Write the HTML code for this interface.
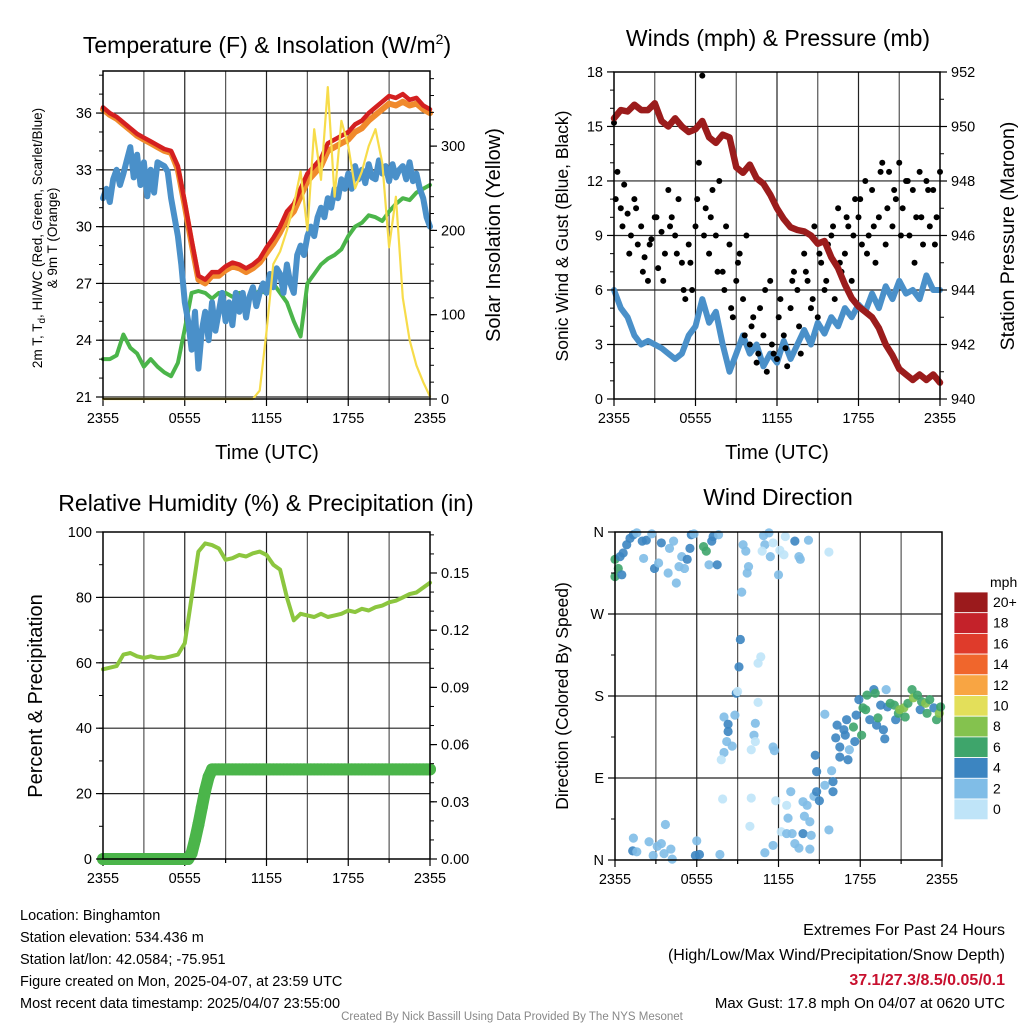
<!DOCTYPE html>
<html><head><meta charset="utf-8">
<style>
html,body{margin:0;padding:0;background:#fff;}
svg{display:block;font-family:"Liberation Sans",sans-serif;}
</style></head>
<body>
<svg id="chart" width="1024" height="1024" viewBox="0 0 1024 1024" xmlns="http://www.w3.org/2000/svg">
<rect width="1024" height="1024" fill="#fff"/>
<text x="267" y="53" font-size="23" text-anchor="middle">Temperature (F) &amp; Insolation (W/m<tspan font-size="14" dy="-9">2</tspan><tspan dy="9">)</tspan></text>
<text x="778" y="46" font-size="23" text-anchor="middle">Winds (mph) &amp; Pressure (mb)</text>
<text x="266" y="511" font-size="23" text-anchor="middle">Relative Humidity (%) &amp; Precipitation (in)</text>
<text x="778" y="505" font-size="23" text-anchor="middle">Wind Direction</text>

<text transform="translate(42,238) rotate(-90)" font-size="13.5" text-anchor="middle">2m T, T<tspan font-size="10" dy="3">d</tspan><tspan dy="-3">, HI/WC (Red, Green, Scarlet/Blue)</tspan></text>
<text transform="translate(57,238) rotate(-90)" font-size="13.5" text-anchor="middle">&amp; 9m T (Orange)</text>
<text transform="translate(500,235) rotate(-90)" font-size="20" text-anchor="middle">Solar Insolation (Yellow)</text>
<text x="267" y="459" font-size="20" text-anchor="middle">Time (UTC)</text>
<text transform="translate(568,236) rotate(-90)" font-size="17.5" text-anchor="middle">Sonic Wind &amp; Gust (Blue, Black)</text>
<text transform="translate(1014,236) rotate(-90)" font-size="19.5" text-anchor="middle">Station Pressure (Maroon)</text>
<text x="777" y="459" font-size="20" text-anchor="middle">Time (UTC)</text>
<text transform="translate(42,696) rotate(-90)" font-size="20" text-anchor="middle">Percent &amp; Precipitation</text>
<text transform="translate(568,696) rotate(-90)" font-size="17.5" text-anchor="middle">Direction (Colored By Speed)</text>

<g font-size="14.5">
<text x="20" y="920">Location: Binghamton</text>
<text x="20" y="942">Station elevation: 534.436 m</text>
<text x="20" y="964">Station lat/lon: 42.0584; -75.951</text>
<text x="20" y="986">Figure created on Mon, 2025-04-07, at 23:59 UTC</text>
<text x="20" y="1008">Most recent data timestamp: 2025/04/07 23:55:00</text>
</g>
<g text-anchor="end">
<text x="1005" y="935" font-size="16">Extremes For Past 24 Hours</text>
<text x="1005" y="960" font-size="16">(High/Low/Max Wind/Precipitation/Snow Depth)</text>
<text x="1005" y="985" font-size="16" font-weight="bold" fill="#c8102e">37.1/27.3/8.5/0.05/0.1</text>
<text x="1005" y="1008" font-size="15">Max Gust: 17.8 mph On 04/07 at 0620 UTC</text>
</g>
<text x="512" y="1020" font-size="11.5" fill="#888" text-anchor="middle">Created By Nick Bassill Using Data Provided By The NYS Mesonet</text>
</svg>
<script>
// ---------- data ----------
const xLabels = ["2355","0555","1155","1755","2355"];
const tempTicks = [21,24,27,30,33,36];
const solarTicks = [0,100,200,300];
const windTicks = [0,3,6,9,12,15,18];
const pressTicks = [940,942,944,946,948,950,952];
const rhTicks = [0,20,40,60,80,100];
const precipTicks = [0.00,0.03,0.06,0.09,0.12,0.15];
const dirTicks = [0,90,180,270,360];
const dirLabels = ["N","E","S","W","N"];
// half-hourly (49 values, t = 0..24h)
const tempRed = [36.3,36.0,35.8,35.5,35.2,34.9,34.7,34.5,34.3,34.1,34.0,33.2,31.3,29.3,27.4,27.2,27.6,27.6,27.9,28.1,28.0,27.8,28.0,28.3,28.9,29.4,30.0,30.8,31.2,32.0,32.8,33.2,33.6,34.4,34.6,34.8,35.0,35.4,35.6,36.0,36.3,36.6,36.9,36.8,37.0,36.7,36.8,36.4,36.2];
const temp9mOrange = [36.2,35.9,35.7,35.4,35.1,34.8,34.6,34.4,34.2,34.0,33.9,33.0,31.1,29.1,27.2,27.0,27.4,27.4,27.7,27.9,27.8,27.6,27.8,28.1,28.6,29.1,29.7,30.4,30.8,31.6,32.4,32.8,33.2,34.0,34.2,34.4,34.6,35.0,35.2,35.6,35.9,36.2,36.5,36.4,36.6,36.4,36.5,36.2,36.0];
const hiwcGreen = [23.0,23.0,23.2,24.3,23.6,23.3,22.6,23.0,22.6,22.3,22.1,22.8,24.6,26.5,26.6,26.5,26.2,26.5,26.5,26.3,26.5,26.0,26.4,26.6,26.5,27.0,26.5,26.0,25.0,24.2,27.0,27.5,28.0,28.3,28.5,28.8,29.5,30.0,30.2,30.6,30.5,30.3,30.8,31.2,31.5,31.4,31.8,32.0,32.2];
const solar = [0,0,0,0,0,0,0,0,0,0,0,0,0,0,0,0,0,0,0,0,0,0,0,10,80,160,175,200,230,270,200,320,260,370,240,330,300,250,270,300,320,280,180,240,120,70,40,20,3];
// quarter-hourly dewpoint (97 values)
const dewBlue = [31.5,32.0,31.3,32.5,33.0,32.2,32.8,33.5,34.2,32.6,33.8,32.2,33.4,31.6,33.0,31.8,33.4,33.3,33.2,32.9,31.5,30.5,29.5,28.0,26.0,25.0,23.5,25.5,22.5,24.5,25.5,24.0,26.0,24.5,25.5,26.5,25.0,26.0,24.8,26.5,25.5,26.5,25.2,26.3,26.8,25.8,26.5,27.0,26.5,27.5,26.8,27.8,27.5,26.5,28.0,27.0,26.5,28.5,29.0,28.5,29.5,30.0,29.5,30.5,31.0,30.5,31.5,31.0,32.0,31.5,32.5,32.0,32.8,32.0,33.2,32.5,33.0,32.3,33.3,32.6,32.5,33.5,32.8,33.2,32.4,33.3,32.6,33.0,33.2,32.5,33.4,32.4,32.8,32.0,31.5,30.5,30.0];
const windBlue = [6.0,5.0,4.5,3.5,3.0,3.2,3.0,2.8,2.5,2.2,2.5,3.5,4.0,5.5,4.2,4.8,3.0,1.5,2.5,3.5,2.5,3.0,1.8,2.5,2.0,3.2,2.2,3.0,3.8,3.0,4.2,3.6,4.5,4.0,5.0,4.5,5.2,4.8,5.8,5.0,6.2,5.5,6.5,5.8,6.0,5.5,6.8,6.0,6.0];
// gusts: quarter-hourly (97) and offset half-hourly (48)
const gustA = [15.2,12.5,10.5,11.8,10.2,9.0,11.0,8.5,9.5,7.8,6.5,8.8,10.0,7.2,9.2,8.0,11.5,10.0,9.0,11.0,7.5,5.5,8.5,6.0,9.5,13.0,17.8,10.5,8.0,11.5,9.0,12.0,7.0,9.5,8.5,4.5,6.5,8.0,5.5,9.0,3.0,4.5,2.0,5.0,3.5,1.5,6.5,2.5,2.2,5.5,3.5,1.8,5.0,7.0,6.0,2.5,8.0,6.5,5.0,9.5,4.5,7.5,6.0,8.5,9.0,5.5,10.5,7.0,8.0,9.5,6.5,11.0,10.0,8.5,12.0,9.0,11.5,7.5,10.0,13.0,8.5,12.5,9.5,11.0,13.0,10.5,12.0,9.0,11.5,10.0,12.5,8.5,12.0,9.5,11.5,10.0,12.5];
const gustB = [11.0,9.5,8.0,10.5,7.0,8.5,10.0,6.5,9.5,8.0,6.0,7.5,11.0,9.0,10.0,7.0,6.0,5.0,7.5,3.5,4.0,2.5,6.0,3.0,4.5,2.8,6.5,4.0,7.0,5.5,8.0,6.5,9.5,7.5,10.0,9.0,11.0,8.0,9.5,12.5,10.5,11.5,9.0,12.0,7.5,10.0,11.5,8.5];
// half-hourly pressure (49)
const pressure = [950.3,950.6,950.55,950.8,950.6,950.6,950.85,950.2,950.0,950.3,950.0,949.8,949.9,950.2,949.6,949.4,949.7,949.6,948.5,948.3,948.6,948.1,947.9,947.5,947.0,946.6,946.3,946.2,946.15,946.0,945.7,945.8,945.2,944.8,944.2,943.7,943.4,943.2,943.0,942.6,942.0,941.6,941.1,940.9,940.7,940.9,940.7,940.9,940.6];
const rh = [58,58.5,59,62.5,63,62,61.5,62,61.5,61.5,62,62.5,66,80,94,96.5,96,95,91.5,92,93,92.5,93.5,94,93,90,88.5,80,73,75,74.5,74,75,74,74.5,75,76,75.5,76.5,76,77,77.5,78.5,79,80,81,81.5,83,84.5];
// quarter-hourly precip (97)
const precip = [0,0,0,0,0,0,0,0,0,0,0,0,0,0,0,0,0,0,0,0,0,0,0,0,0,0,0.003,0.010,0.018,0.027,0.036,0.043,0.047,0.047,0.047,0.047,0.047,0.047,0.047,0.047,0.047,0.047,0.047,0.047,0.047,0.047,0.047,0.047,0.047,0.047,0.047,0.047,0.047,0.047,0.047,0.047,0.047,0.047,0.047,0.047,0.047,0.047,0.047,0.047,0.047,0.047,0.047,0.047,0.047,0.047,0.047,0.047,0.047,0.047,0.047,0.047,0.047,0.047,0.047,0.047,0.047,0.047,0.047,0.047,0.047,0.047,0.047,0.047,0.047,0.047,0.047,0.047,0.047,0.047,0.047,0.047,0.047];
// wind direction scatter
const dirTime = [0,0.24,0,0.5,0.37,0.6,0.86,1.1,1.35,1.6,2.0,2.1,2.3,2.7,2.9,3.2,3.4,3.9,4.0,4.3,4.5,4.7,4.9,5.1,5.3,5.5,5.6,5.8,6.5,6.7,6.9,7.1,7.2,7.5,7.6,9.4,9.6,9.8,9.7,9.3,10.9,11.3,11.0,11.4,10.8,11.6,12.1,12.4,12.5,12.0,13.2,13.5,13.6,14.2,15.7,
9.2,9.1,8.9,9.0,10.7,10.5,10.5,10.3,8.0,8.3,8.8,8.3,10.2,10.3,8.2,8.6,8.0,7.8,10.0,11.6,11.7,7.9,10.0,11.8,9.9,
1.35,1.3,1.6,2.5,2.8,3.1,3.4,3.6,3.7,4.1,4.2,6.0,5.9,6.2,7.7,11.0,11.6,
12.2,12.6,12.7,12.9,12.6,13.0,13.2,13.5,13.8,13.8,14.1,13.9,14.3,14.4,14.3,14.6,14.8,15.0,14.8,14.7,15.4,15.7,16.0,16.0,15.9,15.4,16.2,16.3,16.5,16.5,16.8,16.9,17.0,17.1,17.2,17.5,17.6,17.7,17.9,18.1,18.2,18.4,18.5,18.7,19.0,19.1,19.2,19.3,19.5,19.7,19.8,19.9,20.0,20.2,20.5,20.6,20.8,20.9,21.2,21.3,21.5,21.8,21.9,22.2,22.4,22.5,22.8,22.9,23.1,23.4,23.6,23.8,23.9];
const dirDeg = [330,320,311,313,333,337,346,353,357,359,350,331,351,358,320,326,348,315,342,350,304,322,333,320,330,342,357,358,344,339,324,350,355,324,357,346,339,322,315,294,356,359,346,333,339,348,340,335,355,313,350,333,330,351,338,
242,212,183,185,223,216,173,150,157,149,159,141,137,130,130,125,118,110,121,124,120,67,68,65,37,
24,10,9,20,5,15,18,7,39,12,1,21,5,6,6,8,16,
31,29,46,75,60,29,18,13,29,64,60,48,42,27,12,70,75,65,97,115,82,33,75,86,98,160,134,148,124,113,143,137,154,110,121,146,130,159,176,137,167,165,181,154,187,183,148,156,170,143,133,187,168,172,170,154,161,165,167,157,172,187,178,181,165,174,172,161,176,167,154,161,168];
const dirSpeed = [7,7,7,5,5,5,5,5,5,3,5,3,5,3,5,3,5,3,3,3,3,3,3,3,5,5,5,3,7,7,3,5,5,5,3,3,3,3,3,3,3,3,3,3,1,1,1,1,1,3,5,3,3,3,1,
5,5,5,1,1,1,1,3,3,5,3,5,3,1,3,3,3,1,1,3,3,1,1,1,1,
3,5,3,3,3,3,3,3,3,3,3,3,5,5,3,3,3,
1,3,3,3,1,3,3,3,5,3,3,3,3,3,3,3,5,5,5,5,3,3,5,5,3,3,5,5,5,5,5,5,5,5,3,7,5,5,5,7,7,7,7,5,5,7,5,7,5,5,5,3,5,7,7,5,7,9,9,7,7,7,9,7,5,7,9,7,7,5,7,9,7];
const cbLabels = ["20+","18","16","14","12","10","8","6","4","2","0"];
const cbColors = ["#9b1a1c","#c4222a","#df3b2b","#f0662c","#f8a543","#e3df5a","#84c24e","#3ea56b","#3c85c1","#80bde7","#bfe4f8"];

// ---------- helpers ----------
const NS = "http://www.w3.org/2000/svg";
const svg = document.getElementById('chart');
function el(tag, parent){ const e = document.createElementNS(NS, tag); parent.appendChild(e); return e; }
function speedColor(s){ const i = Math.min(10, Math.max(0, Math.floor(s/2))); return cbColors[10 - i]; }

function panel(name, x0, x1, y0, y1){
  const g = el('g', svg);
  
  
  return {g, x0, x1, y0, y1, xs: t => x0 + t*(x1-x0)/24};
}
function frame(p, hLines){
  const grid = el('g', p.g);
  
  
  for (let h = 3; h < 24; h += 3){
    const l = el('line', grid);
    
    
    const x = p.xs(h);
    l.setAttribute('x1', x); l.setAttribute('x2', x); l.setAttribute('y1', p.y0); l.setAttribute('y2', p.y1);
    l.setAttribute('stroke', h % 6 === 0 ? '#222' : '#555'); l.setAttribute('stroke-width', 1.2);
  }
  hLines.forEach(y => {
    const l = el('line', grid);
    
    
    l.setAttribute('x1', p.x0); l.setAttribute('x2', p.x1); l.setAttribute('y1', y); l.setAttribute('y2', y);
    l.setAttribute('stroke', '#222'); l.setAttribute('stroke-width', 1.2);
  });
  for (let h = 0; h <= 24; h += 3){
    const t = el('line', p.g);
    
    
    const x = p.xs(h);
    t.setAttribute('x1', x); t.setAttribute('x2', x); t.setAttribute('y1', p.y1); t.setAttribute('y2', p.y1 + (h % 6 === 0 ? 7 : 4));
    t.setAttribute('stroke', '#000'); t.setAttribute('stroke-width', 1.2);
  }
  xLabels.forEach((lab, i) => {
    const tx = el('text', p.g);
    
    
    tx.setAttribute('x', p.xs(i*6)); tx.setAttribute('y', p.y1 + 24);
    tx.setAttribute('font-size', 14.5); tx.setAttribute('text-anchor', 'middle');
    tx.textContent = lab;
  });
}
function border(p){
  const r = el('rect', p.g);
  
  
  r.setAttribute('x', p.x0); r.setAttribute('y', p.y0); r.setAttribute('width', p.x1-p.x0); r.setAttribute('height', p.y1-p.y0);
  r.setAttribute('fill', 'none'); r.setAttribute('stroke', '#000'); r.setAttribute('stroke-width', 1.5);
}
function yAxis(p, side, ticks, labels, scale, minorStep, minorMin, minorMax){
  const x = side === 'left' ? p.x0 : p.x1;
  const d = side === 'left' ? -1 : 1;
  if (minorStep){
    for (let v = minorMin; v <= minorMax + 1e-9; v += minorStep){
      const y = scale(v);
      if (y < p.y0 - 0.5 || y > p.y1 + 0.5) continue;
      const m = el('line', p.g);
      
      
      m.setAttribute('x1', x); m.setAttribute('x2', x + d*4); m.setAttribute('y1', y); m.setAttribute('y2', y);
      m.setAttribute('stroke', '#000'); m.setAttribute('stroke-width', 1);
    }
  }
  ticks.forEach((v, i) => {
    const y = scale(v);
    const t = el('line', p.g);
    
    
    t.setAttribute('x1', x); t.setAttribute('x2', x + d*7); t.setAttribute('y1', y); t.setAttribute('y2', y);
    t.setAttribute('stroke', '#000'); t.setAttribute('stroke-width', 1.2);
    const tx = el('text', p.g);
    
    
    tx.setAttribute('x', x + d*11); tx.setAttribute('y', y + 5);
    tx.setAttribute('font-size', 14.5); tx.setAttribute('text-anchor', side === 'left' ? 'end' : 'start');
    tx.textContent = labels[i];
  });
}
function line(p, name, vals, step, scale, color, w){
  const pl = el('polyline', p.g);
  
  
  pl.setAttribute('points', vals.map((v, i) => p.xs(i*step).toFixed(1) + ',' + scale(v).toFixed(1)).join(' '));
  pl.setAttribute('fill', 'none'); pl.setAttribute('stroke', color); pl.setAttribute('stroke-width', w);
  pl.setAttribute('stroke-linejoin', 'round'); pl.setAttribute('stroke-linecap', 'round');
  return pl;
}

// ---------- Panel 1: temperature ----------
const p1 = panel('temperature-panel', 103, 430, 71, 399);
const yT = v => 397 - (v - 21) * 18.93;
const yS = w => 399 - w * 0.843;
frame(p1, tempTicks.map(yT));
line(p1, 'heat-index-line', hiwcGreen, 0.5, yT, '#4bb54a', 4);
line(p1, 'dewpoint-line', dewBlue, 0.25, yT, '#4a90c9', 6);
line(p1, 'temp-9m-line', temp9mOrange, 0.5, yT, '#f08a2c', 6);
line(p1, 'temp-2m-line', tempRed, 0.5, yT, '#d42020', 4.5);
line(p1, 'solar-line', solar, 0.5, yS, '#f7dc4a', 2.2);
border(p1);
yAxis(p1, 'left', tempTicks, tempTicks.map(String), yT, 1, 20, 38);
yAxis(p1, 'right', solarTicks, solarTicks.map(String), yS, 20, 0, 380);

// ---------- Panel 2: winds ----------
const p2 = panel('wind-panel', 614, 940, 72, 399);
const yW = v => 399 - v * 18.17;
const yP = v => 399 - (v - 940) * 27.25;
frame(p2, windTicks.slice(1, -1).map(yW));
line(p2, 'sonic-wind-line', windBlue, 0.5, yW, '#4a90c9', 6);
gustA.forEach((v, i) => {
  const c = el('circle', p2.g);
  
  
  c.setAttribute('cx', p2.xs(i*0.25)); c.setAttribute('cy', yW(v)); c.setAttribute('r', 3); c.setAttribute('fill', '#000');
});
gustB.forEach((v, i) => {
  const c = el('circle', p2.g);
  
  
  c.setAttribute('cx', p2.xs(0.125 + i*0.5)); c.setAttribute('cy', yW(v)); c.setAttribute('r', 3); c.setAttribute('fill', '#000');
});
line(p2, 'pressure-line', pressure, 0.5, yP, '#9b1c1c', 6.5);
border(p2);
yAxis(p2, 'left', windTicks, windTicks.map(String), yW, 1, 0, 18);
yAxis(p2, 'right', pressTicks, pressTicks.map(String), yP, 1, 940, 952);

// ---------- Panel 3: RH & precip ----------
const p3 = panel('humidity-panel', 103, 430, 532, 859);
const yRH = v => 859 - v * 3.27;
const yPr = v => 859 - v * 1906.7;
frame(p3, rhTicks.slice(1, -1).map(yRH));
line(p3, 'precip-line', precip, 0.25, yPr, '#4bb54a', 12);
precip.forEach((v, i) => {
  const c = el('circle', p3.g);
  
  
  c.setAttribute('cx', p3.xs(i*0.25)); c.setAttribute('cy', yPr(v)); c.setAttribute('r', 6); c.setAttribute('fill', '#4bb54a');
});
line(p3, 'rh-line', rh, 0.5, yRH, '#8cc63f', 4);
border(p3);
yAxis(p3, 'left', rhTicks, rhTicks.map(String), yRH, 10, 0, 100);
yAxis(p3, 'right', precipTicks, precipTicks.map(v => v.toFixed(2)), yPr, 0.01, 0, 0.17);

// ---------- Panel 4: wind direction ----------
const p4 = panel('direction-panel', 615, 942, 532, 860);
const yD = d => 860 - d * 328 / 360;
frame(p4, dirTicks.slice(1, -1).map(yD));
dirTime.forEach((t, i) => {
  const c = el('circle', p4.g);
  
  
  c.setAttribute('cx', p4.xs(t)); c.setAttribute('cy', yD(dirDeg[i])); c.setAttribute('r', 4.6);
  c.setAttribute('fill', speedColor(dirSpeed[i])); c.setAttribute('fill-opacity', 0.9);
});
border(p4);
yAxis(p4, 'left', dirTicks, dirLabels, yD, 45, 0, 360);

// ---------- Colorbar ----------
const cb = el('g', svg);


const cbTitle = el('text', cb);


cbTitle.setAttribute('x', 990); cbTitle.setAttribute('y', 587); cbTitle.setAttribute('font-size', 14);
cbTitle.textContent = 'mph';
cbColors.forEach((col, i) => {
  const r = el('rect', cb);
  
  
  r.setAttribute('x', 954); r.setAttribute('y', 592 + i*20.7); r.setAttribute('width', 34); r.setAttribute('height', 20.7);
  r.setAttribute('fill', col); r.setAttribute('stroke', '#fff'); r.setAttribute('stroke-width', 0.8);
  const tx = el('text', cb);
  
  
  tx.setAttribute('x', 993); tx.setAttribute('y', 592 + i*20.7 + 15); tx.setAttribute('font-size', 14);
  tx.textContent = cbLabels[i];
});
</script>
</body></html>
